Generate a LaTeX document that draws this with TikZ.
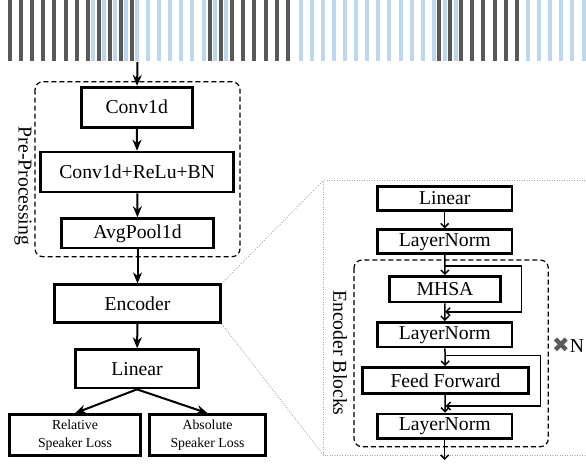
\documentclass[tikz,border=0pt]{standalone}
\usepackage{fontspec}
\setmainfont{Liberation Serif}
\newfontfamily\symfont{DejaVu Sans}
\usetikzlibrary{arrows.meta}
\definecolor{bardark}{HTML}{595959}
\definecolor{barlight}{HTML}{BDD7EE}

\tikzset{
  blk/.style={draw, line width=2.6pt, inner sep=0pt, font=\fontsize{19.7}{22}\selectfont},
  sblk/.style={blk, align=center, font=\fontsize{13.8}{18.3}\selectfont},
  group/.style={draw, dash pattern=on 5pt off 3pt, line width=1.2pt, rounded corners=8pt},
  flow/.style={line width=2pt, -{Stealth[length=11pt,width=9pt]}},
  sflow/.style={line width=1.5pt, -{Straight Barb[length=4pt,width=8pt]}},
  zoomline/.style={gray!70, line width=0.8pt, dash pattern=on 1pt off 1.5pt},
}

\begin{document}
\begin{tikzpicture}[x=1pt,y=-1pt]
    \useasboundingbox (0,0) rectangle (586,463);
    % waveform strip
    \foreach \i in {0,...,11} \fill[bardark] ({8+11.1*\i},0) rectangle +(4,61);
    \foreach \i in {0,...,12} \fill[barlight] ({90.5+11.1*\i},0) rectangle +(4,61);
    \foreach \i in {0,...,7} \fill[bardark] ({208+11.1*\i},0) rectangle +(4,61);
    \foreach \i in {0,...,14} \fill[barlight] ({298.6+11.1*\i},0) rectangle +(4,61);
    \foreach \i in {0,...,7} \fill[bardark] ({437+11.1*\i},0) rectangle +(4,61);
    \foreach \i in {0,...,5} \fill[barlight] ({526+11.1*\i},0) rectangle +(4,61);
    \coordinate (wave) at (137.5,62);

    % left column
    \draw[group] (35,81.7) rectangle (240,256.7);
    \node[font=\fontsize{19.7}{22}\selectfont, rotate=-90] (prelbl) at (23,186) {Pre-Processing};
    \node[blk, minimum width=111pt, minimum height=40pt] (conv) at (136.7,107.2) {Conv1d};
    \node[blk, minimum width=193pt, minimum height=40pt] (crb) at (137.2,172) {Conv1d+ReLu+BN};
    \node[blk, minimum width=152pt, minimum height=29.5pt] (pool) at (137.5,233.3) {AvgPool1d};
    \node[blk, minimum width=166pt, minimum height=38pt] (enc) at (137.5,303.7) {Encoder};
    \node[blk, minimum width=123.5pt, minimum height=38.5pt] (lin) at (137,368.8) {Linear};
    \node[sblk, minimum width=131pt, minimum height=41pt] (rel) at (75,435) {Relative\\Speaker Loss};
    \node[sblk, minimum width=116pt, minimum height=41pt] (abs) at (207.5,435) {Absolute\\Speaker Loss};

    \draw[flow] (wave) -- (conv);
    \draw[flow] (conv) -- (crb);
    \draw[flow] (crb) -- (pool);
    \draw[flow] (pool) -- (enc);
    \draw[flow] (enc) -- (lin);
    \draw[flow] (lin.south) -- (rel.north);
    \draw[flow] (lin.south) -- (abs.north);

    % zoom into encoder
    \coordinate (zt) at (323.3,180.7);
    \coordinate (zb) at (323.3,455);
    \draw[zoomline] (enc.north east) -- (zt);
    \draw[zoomline] (enc.south east) -- (zb);
    \draw[zoomline] (590,180.7) -- (zt) -- (zb) -- (590,455);

    % encoder detail
    \draw[group] (354,260) rectangle (548.3,446.7);
    \node[font=\fontsize{19.7}{22}\selectfont, rotate=-90] (enclbl) at (340,353) {Encoder Blocks};
    \node[font=\fontsize{19.7}{22}\selectfont, anchor=west, inner sep=0pt] (times) at (552,345) {{\symfont\color{bardark}\fontsize{21}{21}\selectfont ✖}N};
    \node[blk, minimum width=134.7pt, minimum height=24pt] (rlin) at (444.7,198.3) {Linear};
    \node[blk, minimum width=134.7pt, minimum height=24pt] (ln1) at (444.7,241.7) {LayerNorm};
    \node[blk, minimum width=110.8pt, minimum height=25.7pt] (mhsa) at (445,289.2) {MHSA};
    \node[blk, minimum width=134.7pt, minimum height=24.7pt] (ln2) at (444.7,334.7) {LayerNorm};
    \node[blk, minimum width=166.4pt, minimum height=26.4pt] (ff) at (445.5,380.5) {Feed Forward};
    \node[blk, minimum width=134.7pt, minimum height=24.7pt] (ln3) at (444.7,426.3) {LayerNorm};
    \coordinate (out) at (444.7,460);

    \draw[sflow] (rlin) -- (ln1);
    \draw[sflow] (ln1) -- (mhsa);
    \draw[sflow] (mhsa) -- (ln2);
    \draw[sflow] (ln2) -- (ff);
    \draw[sflow] (ff) -- (ln3);
    \draw[sflow] (ln3) -- (out);
    % skip connections
    \draw[sflow] ([yshift=-11pt]ln1.south) -| ([xshift=20pt,yshift=-8.4pt]mhsa.south east) -- ([yshift=-8.4pt]mhsa.south);
    \draw[sflow] ([yshift=-7pt]ln2.south) -| ([xshift=10.7pt,yshift=-11pt]ff.south east) -- ([yshift=-11pt]ff.south);
\end{tikzpicture}
\end{document}
